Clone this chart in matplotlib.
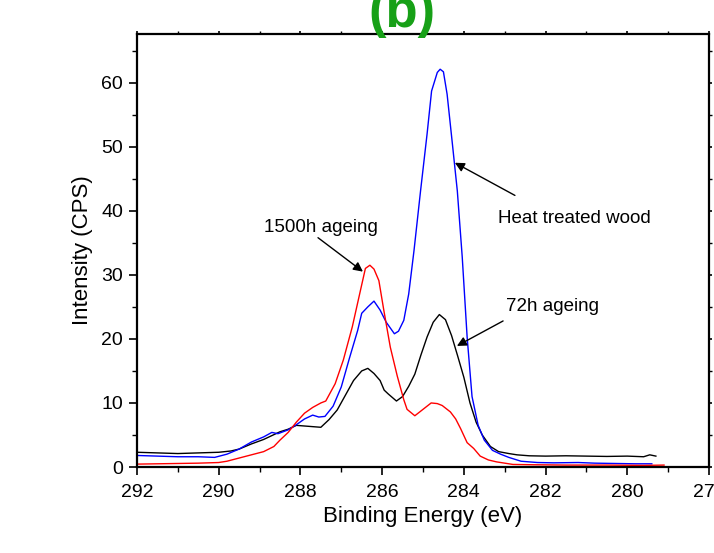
import matplotlib
matplotlib.use("Agg")
import matplotlib.pyplot as plt
from matplotlib.ticker import MultipleLocator

plt.rcParams['font.family'] = ['Liberation Sans', 'DejaVu Sans']

# C1s spectra: binding energy (eV) and intensity (CPS)
be_72h = [292.0, 291.5, 291.0, 290.5, 290.0, 289.7, 289.5, 289.2, 288.9, 288.7,
          288.5, 288.3, 288.1, 287.9, 287.7, 287.5, 287.3, 287.1, 286.9, 286.7,
          286.5, 286.35, 286.2, 286.05, 285.95, 285.85, 285.65, 285.5, 285.35, 285.2,
          285.05, 284.9, 284.75, 284.6, 284.45, 284.3, 284.15, 284.0, 283.85, 283.7,
          283.55, 283.35, 283.15, 282.9, 282.7, 282.4, 282.0, 281.5, 281.0, 280.5,
          280.0, 279.6, 279.45, 279.3]
cps_72h = [2.3, 2.2, 2.1, 2.2, 2.3, 2.5, 2.8, 3.6, 4.3, 4.9,
           5.5, 5.9, 6.5, 6.4, 6.3, 6.2, 7.4, 8.9, 11.2, 13.5,
           15.0, 15.4, 14.6, 13.5, 12.0, 11.4, 10.3, 11.0, 12.6, 14.5,
           17.5, 20.3, 22.6, 23.8, 23.0, 20.5, 17.3, 14.0, 10.0, 7.0,
           5.0, 3.2, 2.4, 2.1, 1.9, 1.75, 1.7, 1.75, 1.7, 1.65,
           1.7, 1.6, 1.9, 1.7]

be_heat = [292.0, 291.5, 291.0, 290.5, 290.1, 289.8, 289.5, 289.2, 288.9, 288.7,
           288.55, 288.3, 288.1, 287.9, 287.7, 287.55, 287.4, 287.2, 287.0, 286.8,
           286.6, 286.5, 286.35, 286.2, 286.05, 285.9, 285.7, 285.6, 285.47, 285.35,
           285.22, 285.06, 284.9, 284.79, 284.65, 284.58, 284.5, 284.41, 284.28, 284.16,
           284.04, 283.92, 283.8, 283.65, 283.5, 283.3, 283.1, 282.9, 282.6, 282.2,
           281.8, 281.2, 280.8, 280.3, 279.8, 279.4]
cps_heat = [1.8, 1.7, 1.6, 1.6, 1.5, 2.0, 2.8, 3.9, 4.7, 5.4,
            5.2, 5.8, 6.6, 7.5, 8.1, 7.8, 7.9, 9.5, 12.5, 17.0,
            21.3, 24.0, 25.0, 25.9, 24.5, 22.6, 20.8, 21.2, 22.9, 27.0,
            33.8, 43.1, 52.0, 58.7, 61.6, 62.1, 61.7, 58.2, 50.4, 43.1,
            32.8, 20.3, 11.0, 6.5, 4.2, 2.6, 2.0, 1.5, 0.9, 0.7,
            0.65, 0.7, 0.6, 0.55, 0.5, 0.5]

be_1500h = [292.0, 291.5, 291.0, 290.5, 290.0, 289.8, 289.5, 289.2, 288.9, 288.65,
            288.5, 288.3, 288.1, 287.9, 287.7, 287.5, 287.38, 287.15, 286.95, 286.73,
            286.53, 286.41, 286.3, 286.2, 286.08, 285.96, 285.8, 285.63, 285.47, 285.39,
            285.2, 285.0, 284.8, 284.65, 284.53, 284.33, 284.2, 284.08, 283.92, 283.76,
            283.6, 283.4, 283.2, 282.8, 282.3, 281.5, 280.5, 279.6, 279.1]
cps_1500h = [0.45, 0.5, 0.55, 0.6, 0.7, 0.9, 1.4, 1.9, 2.4, 3.2,
             4.2, 5.4, 7.0, 8.4, 9.3, 10.0, 10.3, 13.0, 16.7, 21.9,
             27.6, 31.0, 31.5, 30.9, 29.1, 24.5, 18.7, 14.2, 10.5, 9.0,
             8.0, 9.0, 10.0, 9.9, 9.6, 8.6, 7.5, 6.0, 3.8, 2.9,
             1.7, 1.1, 0.8, 0.4, 0.35, 0.3, 0.3, 0.25, 0.3]

fig = plt.figure(figsize=(7.14, 5.53), dpi=100)
ax = fig.add_axes([137 / 714, 1 - 467 / 553, (709 - 137) / 714, (467 - 34) / 553])

ax.plot(be_72h, cps_72h, color='black', lw=1)
ax.plot(be_heat, cps_heat, color='blue', lw=1)
ax.plot(be_1500h, cps_1500h, color='red', lw=1)

ax.set_xlim(292, 278)
ax.set_ylim(0, 67.6)
ax.xaxis.set_major_locator(MultipleLocator(2))
ax.xaxis.set_minor_locator(MultipleLocator(1))
ax.yaxis.set_major_locator(MultipleLocator(10))
ax.yaxis.set_minor_locator(MultipleLocator(5))
ax.tick_params(axis='both', which='major', direction='out', length=6, width=1.2,
               labelsize=14, pad=4)
ax.tick_params(axis='x', which='major', pad=6)
ax.tick_params(axis='both', which='minor', direction='out', length=3.5, width=1)
ax.tick_params(top=True, right=True, which='both')
for t in ax.xaxis.get_ticklines(minor=False)[1::2] + ax.xaxis.get_ticklines(minor=True)[1::2]:
    t.set_markersize(2)
for t in ax.yaxis.get_ticklines(minor=False)[1::2] + ax.yaxis.get_ticklines(minor=True)[1::2]:
    t.set_markersize(2)
for side in ['left', 'bottom', 'top', 'right']:
    ax.spines[side].set_linewidth(1.6)

ax.set_xlabel('Binding Energy (eV)', fontsize=16, labelpad=4)
ax.set_ylabel('Intensity (CPS)', fontsize=16, labelpad=6)

arrow = dict(arrowstyle='-|>', color='black', lw=1, mutation_scale=14,
             shrinkA=0, shrinkB=0)
ax.annotate('', xy=(286.47, 30.5), xytext=(287.57, 35.8), arrowprops=arrow)
ax.text(287.49, 37.4, '1500h ageing', fontsize=13.5, ha='center', va='center')
ax.annotate('', xy=(284.22, 47.5), xytext=(282.75, 42.4), arrowprops=arrow)
ax.text(281.29, 38.8, 'Heat treated wood', fontsize=13.5, ha='center', va='center')
ax.annotate('', xy=(284.17, 18.9), xytext=(283.04, 22.8), arrowprops=arrow)
ax.text(281.82, 25.1, '72h ageing', fontsize=13.5, ha='center', va='center')

fig.text(402 / 714, 1 - 27 / 553, '(b)', color='#17a017', fontsize=38,
         fontweight='bold', ha='center', va='baseline')

fig.savefig('out.png', dpi=100)
